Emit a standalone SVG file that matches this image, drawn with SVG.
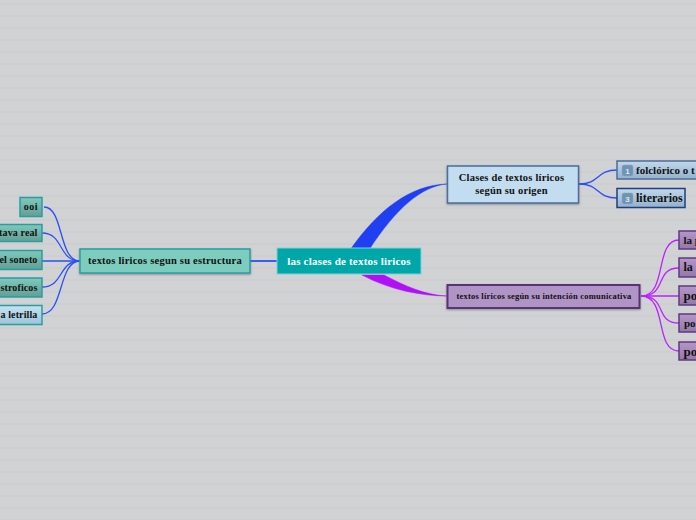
<svg xmlns="http://www.w3.org/2000/svg" width="696" height="520" viewBox="0 0 696 520">
<style>
text{font-family:"Liberation Serif","Times New Roman",serif;font-weight:bold;fill:#111}
.c{text-anchor:middle}
.e{text-anchor:end}
.bl{fill:none;stroke:#2a50f5;stroke-width:1.3}
.pu{fill:none;stroke:#bb22ff;stroke-width:1.3}
.num{fill:#6f93b5;stroke:#8fabc5;stroke-width:.5}
.numt{font-family:"Liberation Sans",Arial,sans-serif;font-size:8px;fill:#dfe8f0;text-anchor:middle}
</style>
<defs>
<pattern id="bg" width="696" height="24" patternUnits="userSpaceOnUse">
<rect width="696" height="24" fill="#d1d2d4"/>
<rect y="3" width="696" height="2" fill="#cdced0"/>
<rect y="15" width="696" height="2" fill="#cecfd1"/>
</pattern>
<filter id="sh" x="-10%" y="-20%" width="120%" height="150%"><feDropShadow dx="0" dy="1" stdDeviation="1" flood-color="#555" flood-opacity=".55"/></filter>
<linearGradient id="gt" x1="0" y1="0" x2="0" y2="1"><stop offset="0" stop-color="#7fc9bc"/><stop offset="1" stop-color="#629f94"/></linearGradient>
<linearGradient id="gl" x1="0" y1="0" x2="0" y2="1"><stop offset="0" stop-color="#c6e2ef"/><stop offset="1" stop-color="#9cc4da"/></linearGradient>
<linearGradient id="gp" x1="0" y1="0" x2="0" y2="1"><stop offset="0" stop-color="#b497c8"/><stop offset="1" stop-color="#9378a8"/></linearGradient>
<linearGradient id="gb" x1="0" y1="0" x2="0" y2="1"><stop offset="0" stop-color="#c2d8ea"/><stop offset="1" stop-color="#94b1cc"/></linearGradient>
</defs>
<rect width="696" height="520" fill="url(#bg)"/>
<g id="connectors">
<path d="M350 250C378 210 410 185 447 184C422 186 396 208 369 250Z" fill="#1f3ff0" stroke="#1f3ff0" stroke-width=".5"/>
<path d="M384 275C405 286 425 295 447 296C422 296 390 290 362 275Z" fill="#b010f5" stroke="#b010f5" stroke-width=".5"/>
<path d="M250 261H277" fill="none" stroke="#2a50f5" stroke-width="1.8"/>
<path class="bl" d="M80 261C58 261 64 207 44 207"/>
<path class="bl" d="M80 261C58 261 64 233 42 233"/>
<path class="bl" d="M80 261H42"/>
<path class="bl" d="M80 261C58 261 64 287 42 287"/>
<path class="bl" d="M80 261C58 261 64 314 42 314"/>
<path class="bl" d="M579 184C600 184 596 170 617 170"/>
<path class="bl" d="M579 184C600 184 596 198 617 198"/>
<path class="pu" d="M641 296C668 296 654 240 679 240"/>
<path class="pu" d="M641 296C668 296 654 268 679 268"/>
<path class="pu" d="M641 296H679"/>
<path class="pu" d="M641 296C668 296 654 323 679 323"/>
<path class="pu" d="M641 296C668 296 654 351 679 351"/>
</g>
<g id="n-root"><rect x="277" y="248" width="144" height="26" fill="#00a7a8" stroke="#7fd0d8" stroke-width="1"/><text class="c" x="349" y="265" font-size="11" letter-spacing=".2" style="fill:#fff">las clases de textos liricos</text></g>
<g id="n-estructura"><rect x="80" y="249" width="170" height="24" fill="#7dcdbf" stroke="#2a9da3" stroke-width="1.500" filter="url(#sh)"/><text class="c" x="165" y="264" font-size="10.500" letter-spacing=".22">textos liricos segun su estructura</text></g>
<g id="n-origen"><rect x="447.500" y="166" width="131" height="37" fill="#c3ddf0" stroke="#4d6c9c" stroke-width="1.500" filter="url(#sh)"/><text class="c" x="511.500" y="181" font-size="10.500" letter-spacing=".2">Clases de textos líricos</text><text class="c" x="511.500" y="194" font-size="10.500" letter-spacing=".2">según su origen</text></g>
<g id="n-intencion"><rect x="447.500" y="285" width="192" height="23" fill="#b094c6" stroke="#5a3178" stroke-width="2" filter="url(#sh)"/><text class="c" x="544" y="299" font-size="8.500" letter-spacing=".22">textos líricos según su intención comunicativa</text></g>
<g id="n-ooi"><rect x="20" y="197.500" width="22" height="19" fill="url(#gt)" stroke="#2a9da3" stroke-width="1.500"/><text class="c" x="31" y="210" font-size="10" letter-spacing=".5">ooi</text></g>
<g id="n-octava"><rect x="-10" y="224.500" width="52" height="17" fill="url(#gt)" stroke="#2a9da3" stroke-width="1.500"/><text class="e" x="37.500" y="236" font-size="10" letter-spacing=".12">tava real</text></g>
<g id="n-soneto"><rect x="-10" y="250.500" width="52" height="19" fill="url(#gt)" stroke="#2a9da3" stroke-width="1.500"/><text class="e" x="37.500" y="263" font-size="10" letter-spacing=".12">el soneto</text></g>
<g id="n-estroficos"><rect x="-10" y="278" width="52" height="19" fill="url(#gt)" stroke="#2a9da3" stroke-width="1.500"/><text class="e" x="37.500" y="291" font-size="10" letter-spacing=".12">stroficos</text></g>
<g id="n-letrilla"><rect x="-10" y="305.500" width="52" height="19" fill="url(#gl)" stroke="#2a9da3" stroke-width="1.500"/><text class="e" x="37.500" y="318" font-size="10" letter-spacing=".12">a letrilla</text></g>
<g id="n-folclorico"><rect x="617" y="161" width="90" height="18" fill="url(#gb)" stroke="#4d6c9c" stroke-width="1.500"/><rect class="num" x="622" y="165" width="11" height="11" rx="2"/><text class="numt" x="627.500" y="174">1</text><text x="636" y="174" font-size="11">folclórico o t</text></g>
<g id="n-literarios"><rect x="617" y="188.500" width="68" height="19" fill="url(#gb)" stroke="#1f3f7f" stroke-width="1.500"/><rect class="num" x="622" y="193" width="11" height="11" rx="2"/><text class="numt" x="627.500" y="202">3</text><text x="636" y="202" font-size="12">literarios</text></g>
<g id="n-p1"><rect x="679" y="231" width="30" height="18" fill="url(#gp)" stroke="#5e3a80" stroke-width="1.500"/><text x="683.500" y="244" font-size="11">la p</text></g>
<g id="n-p2"><rect x="679" y="258" width="30" height="19" fill="url(#gp)" stroke="#5e3a80" stroke-width="1.500"/><text x="683.500" y="271" font-size="12">la</text></g>
<g id="n-p3"><rect x="679" y="286" width="30" height="19" fill="url(#gp)" stroke="#5e3a80" stroke-width="1.500"/><text x="683.500" y="300" font-size="13">po</text></g>
<g id="n-p4"><rect x="679" y="314" width="30" height="18" fill="url(#gp)" stroke="#5e3a80" stroke-width="1.500"/><text x="684" y="327" font-size="11">po</text></g>
<g id="n-p5"><rect x="679" y="342" width="30" height="18" fill="url(#gp)" stroke="#5e3a80" stroke-width="1.500"/><text x="683.500" y="356" font-size="13">po</text></g>
</svg>
